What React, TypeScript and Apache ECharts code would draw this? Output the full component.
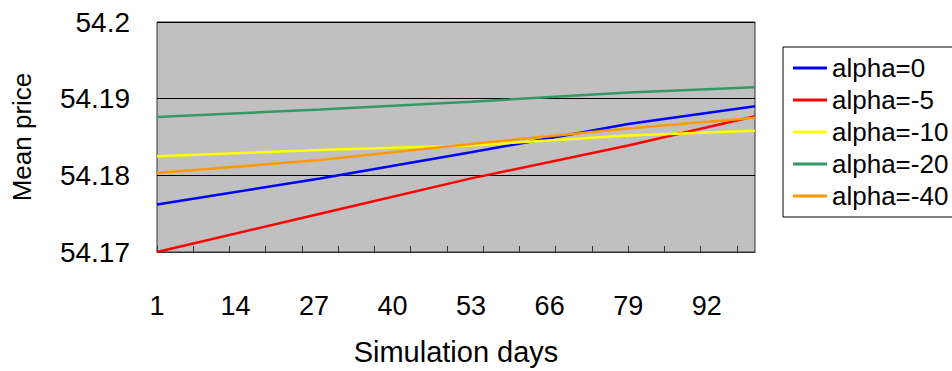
import React, { useEffect, useRef } from "react";
import * as echarts from "echarts";

const days: string[] = Array.from({ length: 100 }, (_, i) => String(i + 1));
const sampleDays = [1, 28, 53, 79, 100];
const alpha0 = [54.1762, 54.1796, 54.183, 54.1867, 54.189];
const alphaM5 = [54.17, 54.175, 54.1796, 54.1839, 54.1877];
const alphaM10 = [54.1825, 54.1833, 54.1839, 54.1852, 54.1858];
const alphaM20 = [54.1876, 54.1886, 54.1896, 54.1908, 54.1915];
const alphaM40 = [54.1803, 54.182, 54.1841, 54.1861, 54.1875];
const seriesNames = ["alpha=0", "alpha=-5", "alpha=-10", "alpha=-20", "alpha=-40"];
const seriesColors = ["#0000ff", "#ff0000", "#ffff00", "#339966", "#ff9900"];
const seriesValues = [alpha0, alphaM5, alphaM10, alphaM20, alphaM40];

const FONT = "'Liberation Sans', Arial, sans-serif";

export default function App() {
  const ref = useRef<HTMLDivElement>(null);
  useEffect(() => {
    if (!ref.current) return;
    const chart = echarts.init(ref.current, undefined, { renderer: "svg" });
    chart.setOption({
      animation: false,
      backgroundColor: "#ffffff",
      textStyle: { fontFamily: FONT, color: "#000" },
      grid: {
        left: 157,
        top: 22,
        width: 598,
        height: 231,
        show: true,
        backgroundColor: "#c0c0c0",
        borderColor: "#333",
        borderWidth: 1,
      },
      legend: {
        orient: "vertical",
        left: 783,
        top: 47,
        padding: [8, 8, 8, 10],
        itemGap: 6,
        itemWidth: 34,
        itemHeight: 3,
        icon: "rect",
        backgroundColor: "#ffffff",
        borderColor: "#000",
        borderWidth: 1,
        borderRadius: 0,
        textStyle: { fontFamily: FONT, fontSize: 26, color: "#000", padding: [0, 0, 0, 0] },
        data: seriesNames,
      },
      xAxis: {
        type: "category",
        data: days,
        boundaryGap: false,
        axisLine: { show: true, lineStyle: { color: "#333", width: 1 } },
        axisTick: { show: true, inside: true, length: 6, interval: 5, lineStyle: { color: "#333" } },
        axisLabel: { interval: 12, margin: 40, fontSize: 27, color: "#000", fontFamily: FONT },
        splitLine: { show: false },
        name: "Simulation days",
        nameLocation: "middle",
        nameGap: 85,
        nameTextStyle: { fontSize: 29, color: "#000", fontFamily: FONT },
      },
      yAxis: {
        type: "value",
        min: 54.17,
        max: 54.2,
        interval: 0.01,
        axisLine: { show: false },
        axisTick: { show: false },
        axisLabel: {
          margin: 27,
          fontSize: 28,
          color: "#000",
          fontFamily: FONT,
          formatter: (v: number) => String(Math.round(v * 100) / 100),
        },
        splitLine: { show: true, lineStyle: { color: "#000", width: 1 } },
        name: "Mean price",
        nameLocation: "middle",
        nameGap: 122,
        nameTextStyle: { fontSize: 26, color: "#000", fontFamily: FONT },
      },
      series: seriesNames.map((name, s) => ({
        name,
        type: "line",
        symbol: "none",
        connectNulls: true,
        color: seriesColors[s],
        itemStyle: { color: seriesColors[s] },
        lineStyle: { color: seriesColors[s], width: 2.5 },
        data: sampleDays.map((d, i) => [d - 1, seriesValues[s][i]]),
      })),
    });
    return () => chart.dispose();
  }, []);
  return (
    <div
      ref={ref}
      style={{ position: "fixed", left: 0, top: 0, width: 952, height: 371, background: "#fff" }}
    />
  );
}
